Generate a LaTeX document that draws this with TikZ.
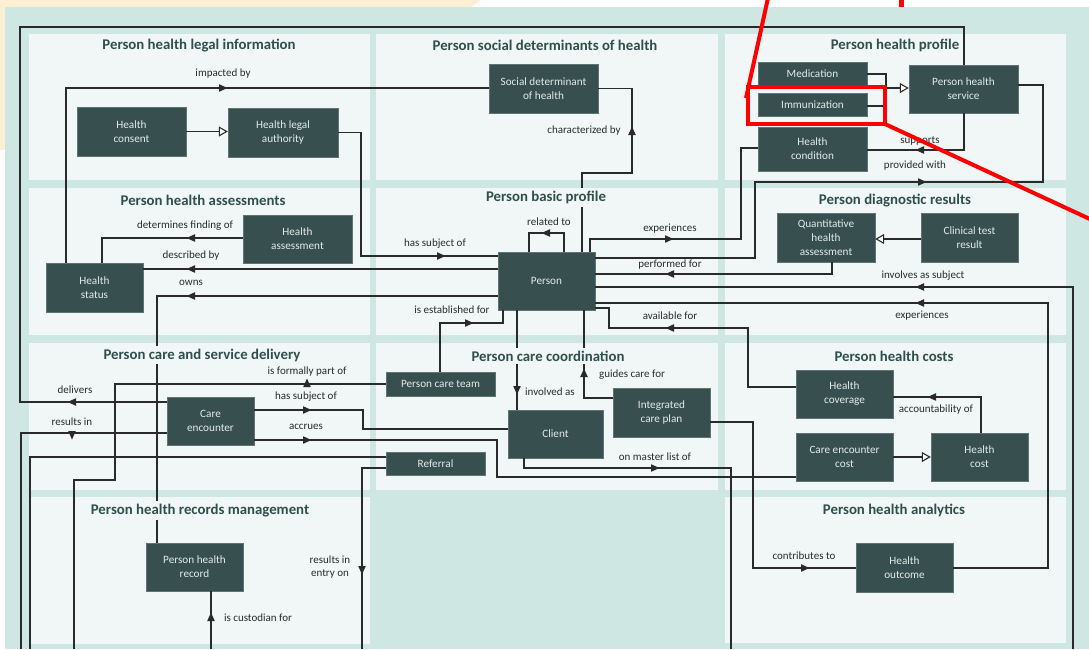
\documentclass[tikz,border=0pt]{standalone}
\usepackage{fontspec}
\setmainfont{Carlito}
\usetikzlibrary{arrows.meta}
\definecolor{mint}{HTML}{CFE7E2}
\definecolor{panel}{HTML}{F1F7F6}
\definecolor{nodec}{HTML}{37504F}
\definecolor{titlec}{HTML}{2F4F4C}
\definecolor{lc}{HTML}{2A2A2A}
\definecolor{ntext}{HTML}{E3EAE9}
\definecolor{yel}{HTML}{FDEFD3}
\definecolor{annot}{HTML}{FF0000}
\tikzset{
  box/.style={rectangle, fill=nodec, draw=nodec!80!white, line width=0.4pt, text=ntext, align=center, inner sep=0pt,
    font=\fontsize{11.2}{14}\selectfont},
  ttl/.style={text=titlec, fill=panel, font=\fontsize{14.8}{17}\selectfont\bfseries, inner xsep=2pt, inner ysep=3pt},
  lbl/.style={text=lc, font=\fontsize{11}{13.5}\selectfont, inner sep=0pt, align=center},
  conn/.style={draw=lc, line width=1.3pt},
  gen/.style={conn, -{Triangle[length=9pt, width=10pt, fill=white, line width=1.1pt]}},
  mk/.pic={\fill[lc] (4.5,0) -- (-4,3.8) -- (-4,-3.8) -- cycle;},
  annotline/.style={draw=annot, line width=4pt}
}
\begin{document}
\begin{tikzpicture}[x=1pt,y=-1pt]
\useasboundingbox (0,0) rectangle (1089,649);
\fill[white] (0,0) rectangle (1089,649);
\fill[yel] (0,0) -- (481,0) -- (471,7) -- (0,7) -- cycle;
\fill[yel] (0,0) rectangle (5,150);
\fill[mint] (5,7) rectangle (1089,649);
% panels
\foreach \xa/\xb in {29/370, 376/718, 725/1066}{
  \fill[panel] (\xa,34) rectangle (\xb,180);
  \fill[panel] (\xa,188) rectangle (\xb,335);
  \fill[panel] (\xa,343) rectangle (\xb,490);
}
\fill[panel] (29,497) rectangle (370,644);
\fill[panel] (725,497) rectangle (1066,643);
% nodes
\node[box, minimum width=109, minimum height=49] (consent) at (131.5,131.5) {Health\\consent};
\node[box, minimum width=110, minimum height=49] (legal) at (283,132.5) {Health legal\\authority};
\node[box, minimum width=109, minimum height=49] (sdoh) at (543.5,88.5) {Social determinant\\of health};
\node[box, minimum width=109, minimum height=23] (med) at (812.5,73.5) {Medication};
\node[box, minimum width=109, minimum height=23] (imm) at (812.5,104.5) {Immunization};
\node[box, minimum width=109, minimum height=44] (cond) at (812.5,149) {Health\\condition};
\node[box, minimum width=109, minimum height=48] (phs) at (963.5,89) {Person health\\service};
\node[box, minimum width=109, minimum height=48] (assess) at (297.5,239) {Health\\assessment};
\node[box, minimum width=97, minimum height=49] (hstatus) at (94.5,287.5) {Health\\status};
\node[box, minimum width=97, minimum height=58] (person) at (546.5,281) {Person};
\node[box, minimum width=98, minimum height=49] (qha) at (826,237.5) {Quantitative\\health\\assessment};
\node[box, minimum width=97, minimum height=49] (ctr) at (969.5,237.5) {Clinical test\\result};
\node[box, minimum width=87, minimum height=48] (careenc) at (210.5,421) {Care\\encounter};
\node[box, minimum width=109, minimum height=24] (pct) at (440.5,384) {Person care team};
\node[box, minimum width=95, minimum height=48] (client) at (555.5,434) {Client};
\node[box, minimum width=97, minimum height=49] (icp) at (661.5,412.5) {Integrated\\care plan};
\node[box, minimum width=99, minimum height=23] (referral) at (435.5,463.5) {Referral};
\node[box, minimum width=97, minimum height=48] (coverage) at (844.5,394) {Health\\coverage};
\node[box, minimum width=97, minimum height=48] (cecost) at (844.5,457) {Care encounter\\cost};
\node[box, minimum width=97, minimum height=48] (hcost) at (979.5,457) {Health\\cost};
\node[box, minimum width=97, minimum height=48] (phr) at (194.5,567) {Person health\\record};
\node[box, minimum width=97, minimum height=49] (outcome) at (904.5,567.5) {Health\\outcome};
% free ends at the lower edge
\coordinate (e21) at (21,649);
\coordinate (e30) at (30,649);
\coordinate (e74) at (74,649);
\coordinate (e211) at (211,649);
\coordinate (e362) at (362,649);
\coordinate (e731) at (731,649);
\coordinate (e1073) at (1073,649);
% connectors
\draw[conn] (hstatus.north -| 66,0) |- (sdoh.west |- 0,88);
\draw[gen] (consent.east) -- (consent.east -| legal.west);
\draw[conn] (legal.east) -| (361,256) -- (person.west |- 0,256);
\draw[conn] (sdoh.east) -| (632,173) -| (person.north -| 582,0);
\draw[conn] (person.north -| 529,0) |- (564,233) -- (person.north -| 564,0);
\draw[conn] (person.north -| 590,0) |- (741,239) |- (cond.west |- 0,148);
\draw[conn] (person.east |- 0,258) -| (755,182) -| (1043,85) -- (phs.east |- 0,85);
\draw[conn] (qha.south -| 832,0) |- (person.east |- 0,274);
\draw[conn] (phs.south -| 964,0) |- (cond.east |- 0,150);
\draw[conn] (phs.north -| 964,0) |- (20,27) |- (careenc.west |- 0,402);
\draw[conn] (imm.east |- 0,106) -| (886,88);
\draw[gen] (med.east |- 0,74) -| (886,88) -- (phs.west |- 0,88);
\draw[conn] (e1073) |- (person.east |- 0,287);
\draw[conn] (outcome.east |- 0,568) -| (1048,303) -- (person.east |- 0,303);
\draw[conn] (person.east |- 0,308) -| (609,328) -| (748,387) -- (coverage.west |- 0,387);
\draw[conn] (phr.north -| 157,0) |- (person.west |- 0,296);
\draw[conn] (hstatus.east |- 0,269) -- (person.west |- 0,269);
\draw[conn] (assess.west |- 0,238) -| (hstatus.north -| 102,0);
\draw[conn] (person.south -| 503,0) |- (440,323) -- (pct.north -| 440,0);
\draw[conn] (person.south -| 517,0) -- (client.north -| 517,0);
\draw[conn] (icp.west |- 0,398) -| (person.south -| 584,0);
\draw[conn] (pct.west) -| (115,480) -| (e74);
\draw[conn] (careenc.east |- 0,410) -| (363,429) -- (client.west |- 0,429);
\draw[conn] (careenc.east |- 0,440) -| (497,477) -- (cecost.west |- 0,477);
\draw[conn] (careenc.west |- 0,433) -| (e21);
\draw[conn] (e30) |- (referral.west |- 0,457);
\draw[conn] (referral.west |- 0,468) -| (e362);
\draw[conn] (client.south -| 524,0) |- (731,468) -- (e731);
\draw[conn] (icp.east |- 0,422) -| (753,568) -- (outcome.west |- 0,568);
\draw[conn] (hcost.north -| 981,0) |- (coverage.east |- 0,397);
\draw[gen] (cecost.east |- 0,457) -- (hcost.west |- 0,457);
\draw[gen] (ctr.west |- 0,239) -- (qha.east |- 0,239);
\draw[conn] (phr.south -| 211,0) -- (e211);
% titles (masking the lines that pass under them)
\node[ttl] (t1) at (199,45.5) {Person health legal information};
\node[ttl] (t2) at (545,45.5) {Person social determinants of health};
\node[ttl] (t3) at (895,45.5) {Person health profile};
\node[ttl] (t4) at (203,200.5) {Person health assessments};
\node[ttl] (t5) at (546,197.5) {Person basic profile};
\node[ttl] (t6) at (895,201) {Person diagnostic results};
\node[ttl] (t7) at (202,355) {Person care and service delivery};
\node[ttl] (t8) at (548,356) {Person care coordination};
\node[ttl] (t9) at (894,356) {Person health costs};
\node[ttl] (t10) at (200,510.5) {Person health records management};
\node[ttl] (t11) at (894,510) {Person health analytics};
% markers
\pic at (223,88) {mk};
\pic[rotate=90] at (632,131) {mk};
\pic[rotate=180] at (920,150) {mk};
\pic at (922,182) {mk};
\pic[rotate=180] at (191,238) {mk};
\pic[rotate=180] at (191,269) {mk};
\pic[rotate=180] at (191,296) {mk};
\pic at (441,256) {mk};
\pic[rotate=180] at (546,233) {mk};
\pic at (669,239) {mk};
\pic[rotate=180] at (670,274) {mk};
\pic[rotate=180] at (920,287) {mk};
\pic[rotate=180] at (920,303) {mk};
\pic[rotate=180] at (670,328) {mk};
\pic at (469,323) {mk};
\pic[rotate=-90] at (517,390) {mk};
\pic[rotate=90] at (584,373) {mk};
\pic[rotate=90] at (307,383) {mk};
\pic[rotate=180] at (72,402) {mk};
\pic at (307,410) {mk};
\pic[rotate=-90] at (72,435) {mk};
\pic at (307,440) {mk};
\pic at (655,468) {mk};
\pic[rotate=180] at (932,397) {mk};
\pic at (805,568) {mk};
\pic[rotate=-90] at (362,570) {mk};
\pic[rotate=90] at (211,617) {mk};
% labels
\node[lbl] (l1) at (223,74) {impacted by};
\node[lbl] (l2) at (584,131) {characterized by};
\node[lbl] (l3) at (920,141) {supports};
\node[lbl] (l4) at (915,166) {provided with};
\node[lbl] (l5) at (185,226) {determines finding of};
\node[lbl] (l6) at (191,256) {described by};
\node[lbl] (l7) at (191,283) {owns};
\node[lbl] (l8) at (435,244) {has subject of};
\node[lbl] (l9) at (549,222) {related to};
\node[lbl] (l10) at (670,229) {experiences};
\node[lbl] (l11) at (670,265) {performed for};
\node[lbl] (l12) at (670,316) {available for};
\node[lbl] (l13) at (452,309.5) {is established for};
\node[lbl] (l14) at (923,276) {involves as subject};
\node[lbl] (l15) at (922,316) {experiences};
\node[lbl] (l16) at (307,372) {is formally part of};
\node[lbl] (l17) at (75,390) {delivers};
\node[lbl] (l18) at (306,397) {has subject of};
\node[lbl] (l19) at (72,422) {results in};
\node[lbl] (l20) at (306,427) {accrues};
\node[lbl, anchor=west] (l21) at (525,392) {involved as};
\node[lbl] (l22) at (632,375) {guides care for};
\node[lbl] (l23) at (655,457) {on master list of};
\node[lbl] (l24) at (936,410) {accountability of};
\node[lbl] (l25) at (330,567) {results in\\entry on};
\node[lbl] (l26) at (258,618) {is custodian for};
\node[lbl] (l27) at (804,556) {contributes to};
% red annotation
\draw[annotline] (768,-2) -- (746,98);
\draw[annotline] (748,87) rectangle (885,124);
\draw[annotline] (885,124) -- (1092,220);
\fill[annot] (899,0) rectangle (904,7);
\end{tikzpicture}
\end{document}
